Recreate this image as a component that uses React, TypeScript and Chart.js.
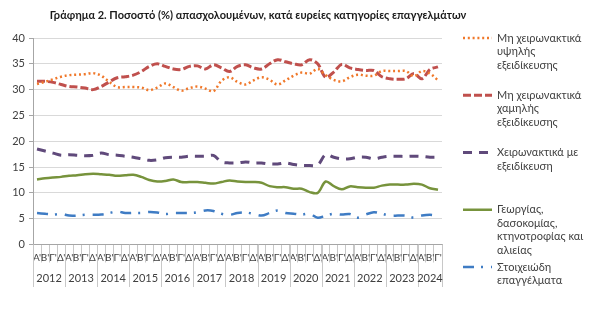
import React, { useEffect, useRef } from "react";
import { Chart, registerables } from "chart.js";

Chart.register(...registerables);

const titleText =
  "Γράφημα 2. Ποσοστό (%) απασχολουμένων, κατά ευρείες κατηγορίες επαγγελμάτων";

const years = ["2012", "2013", "2014", "2015", "2016", "2017", "2018", "2019", "2020", "2021", "2022", "2023", "2024"];
const quarterNames = ["Α'", "Β'", "Γ'", "Δ'"];
const quartersInLastYear = 3;

const seriesNames = [
  ["Μη χειρωνακτικά", "υψηλής", "εξειδίκευσης"],
  ["Μη χειρωνακτικά", "χαμηλής", "εξειδίκευσης"],
  ["Χειρωνακτικά με", "εξειδίκευση"],
  ["Γεωργίας,", "δασοκομίας,", "κτηνοτροφίας και", "αλιείας"],
  ["Στοιχειώδη", "επαγγέλματα"],
];

const highSkillNonManual = [
  31.1, 31.5, 32.0, 32.5, 32.8, 32.9, 33.0, 33.2, 32.7, 31.5, 30.5, 30.5, 30.5,
  30.4, 29.9, 30.4, 31.2, 30.5, 29.8, 30.3, 30.6, 30.2, 29.7, 31.7, 32.4, 31.5,
  31.0, 31.8, 32.4, 31.9, 31.0, 31.8, 32.7, 33.3, 33.1, 34.0, 32.8, 31.9, 31.6,
  32.4, 32.9, 32.7, 32.7, 33.6, 33.6, 33.6, 33.6, 32.6, 33.6, 33.1, 31.8,
];
const lowSkillNonManual = [
  31.6, 31.6, 31.4, 31.0, 30.6, 30.5, 30.3, 30.0, 30.6, 31.5, 32.3, 32.5, 32.8,
  33.5, 34.5, 35.0, 34.5, 34.0, 33.9, 34.5, 34.6, 34.0, 34.8, 34.2, 33.5, 34.5,
  34.8, 34.2, 34.0, 35.0, 35.8, 35.4, 35.0, 34.8, 35.8, 35.0, 32.4, 33.4, 34.9,
  34.2, 33.9, 33.7, 33.7, 32.5, 32.1, 32.0, 32.1, 33.1, 32.1, 33.9, 34.4,
];
const skilledManual = [
  18.5, 18.1, 17.7, 17.3, 17.4, 17.3, 17.2, 17.3, 17.7, 17.4, 17.3, 17.1, 16.9,
  16.6, 16.3, 16.4, 16.8, 16.9, 16.9, 17.1, 17.1, 17.1, 17.25, 16.0, 15.8, 15.8,
  16.0, 15.8, 15.8, 15.6, 15.6, 15.8, 15.5, 15.3, 15.3, 15.4, 17.4, 16.9, 16.6,
  16.6, 16.9, 16.9, 16.6, 16.9, 17.1, 17.1, 17.05, 17.1, 17.05, 16.9, 16.9,
];
const agriculture = [
  12.6, 12.85, 13.0, 13.1, 13.3, 13.4, 13.6, 13.7, 13.6, 13.5, 13.3, 13.4, 13.5,
  13.1, 12.5, 12.2, 12.3, 12.6, 12.1, 12.1, 12.1, 11.95, 11.8, 12.1, 12.4, 12.2,
  12.1, 12.1, 11.95, 11.3, 11.1, 11.1, 10.8, 10.8, 10.15, 10.0, 12.2, 11.3, 10.7,
  11.25, 11.1, 11.0, 11.0, 11.4, 11.6, 11.6, 11.6, 11.75, 11.6, 10.9, 10.6,
];
const elementary = [
  6.1, 5.95, 5.8, 5.95, 5.6, 5.6, 5.75, 5.75, 5.8, 6.1, 6.4, 6.1, 6.1, 6.1, 6.3,
  6.2, 5.9, 6.1, 6.1, 6.1, 6.25, 6.6, 6.5, 5.95, 5.75, 6.1, 6.2, 5.95, 5.6, 6.1,
  6.6, 6.1, 5.95, 5.8, 5.95, 5.2, 5.6, 5.95, 5.8, 5.9, 5.2, 5.8, 6.25, 5.95, 5.6,
  5.6, 5.6, 5.2, 5.6, 5.75, 5.6,
];

const yTicks = [0, 5, 10, 15, 20, 25, 30, 35, 40];

const FONT = "Lato, 'Open Sans', 'Noto Sans', sans-serif";
const TEXT = "#404040";

// categories: one entry per quarter, with the year it belongs to
const categories: { year: string; q: string }[] = [];
years.forEach((y, yi) => {
  const n = yi === years.length - 1 ? quartersInLastYear : quarterNames.length;
  for (let k = 0; k < n; k++) categories.push({ year: y, q: quarterNames[k] });
});
const quarterLabels = categories.map((c) => c.q);

const decorPlugin = {
  id: "decor",
  afterDraw(chart: any) {
    const ctx = chart.ctx as CanvasRenderingContext2D;
    const xs = chart.scales.x;
    const area = chart.chartArea;
    ctx.save();
    // title
    ctx.fillStyle = "#1a1a1a";
    ctx.font = `bold 11px ${FONT}`;
    ctx.textAlign = "center";
    ctx.textBaseline = "middle";
    ctx.fillText(titleText, 258, 15);

    // year row
    const half = (xs.getPixelForValue(1) - xs.getPixelForValue(0)) / 2;
    ctx.strokeStyle = "#C8C8C8";
    ctx.lineWidth = 1;
    ctx.font = `11px ${FONT}`;
    ctx.fillStyle = TEXT;
    let idx = 0;
    const bottom = 287;
    years.forEach((y) => {
      const start = idx;
      while (idx < categories.length && categories[idx].year === y) idx++;
      const end = idx - 1;
      const left = xs.getPixelForValue(start) - half;
      const right = xs.getPixelForValue(end) + half;
      ctx.beginPath();
      ctx.moveTo(Math.round(left) + 0.5, area.bottom);
      ctx.lineTo(Math.round(left) + 0.5, bottom);
      ctx.stroke();
      if (idx === categories.length) {
        ctx.beginPath();
        ctx.moveTo(Math.round(right) + 0.5, area.bottom);
        ctx.lineTo(Math.round(right) + 0.5, bottom);
        ctx.stroke();
      }
      ctx.fillText(y, (left + right) / 2, 278);
    });

    // legend
    const lx0 = 463;
    const lx1 = 492;
    const tx = 497;
    const step = 57.25;
    const lineH = 13.5;
    chart.data.datasets.forEach((ds: any, i: number) => {
      const y0 = 38 + i * step;
      ctx.save();
      ctx.strokeStyle = ds.borderColor;
      ctx.lineWidth = ds.borderWidth;
      ctx.setLineDash(ds.borderDash || []);
      ctx.lineCap = ds.borderCapStyle || "butt";
      ctx.beginPath();
      ctx.moveTo(lx0, y0);
      ctx.lineTo(lx1, y0);
      ctx.stroke();
      ctx.restore();
      ctx.fillStyle = TEXT;
      ctx.font = `11px ${FONT}`;
      ctx.textAlign = "left";
      ctx.textBaseline = "middle";
      seriesNames[i].forEach((line, li) => {
        ctx.fillText(line, tx, y0 + li * lineH);
      });
    });
    ctx.restore();
  },
};

export default function App() {
  const ref = useRef<HTMLCanvasElement>(null);
  useEffect(() => {
    const canvas = ref.current!;
    const chart = new Chart(canvas, {
      type: "line",
      data: {
        labels: quarterLabels,
        datasets: [
          {
            label: seriesNames[0].join(" "),
            data: highSkillNonManual,
            borderColor: "#F0782A",
            borderWidth: 2.5,
            borderDash: [2, 2.8],
          },
          {
            label: seriesNames[1].join(" "),
            data: lowSkillNonManual,
            borderColor: "#C0504D",
            borderWidth: 3,
            borderDash: [8, 3],
          },
          {
            label: seriesNames[2].join(" "),
            data: skilledManual,
            borderColor: "#604A7B",
            borderWidth: 3,
            borderDash: [9, 7],
          },
          {
            label: seriesNames[3].join(" "),
            data: agriculture,
            borderColor: "#77933C",
            borderWidth: 2.5,
          },
          {
            label: seriesNames[4].join(" "),
            data: elementary,
            borderColor: "#3F7CC4",
            borderWidth: 2.5,
            borderDash: [11, 7, 2, 8],
          },
        ] as any,
      },
      options: {
        responsive: false,
        devicePixelRatio: 1,
        animation: false,
        layout: { padding: { top: 38, right: 158, left: 0, bottom: 0 } },
        elements: {
          point: { radius: 0, hoverRadius: 0 },
          line: { tension: 0.35, fill: false },
        },
        plugins: {
          legend: { display: false },
          title: { display: false },
          tooltip: { enabled: false },
        },
        scales: {
          x: {
            type: "category",
            offset: true,
            grid: {
              drawOnChartArea: false,
              offset: true,
              tickLength: 18,
              color: "#C8C8C8",
            },
            border: { color: "#A6A6A6" },
            ticks: {
              autoSkip: false,
              maxRotation: 0,
              minRotation: 0,
              padding: -11,
              color: TEXT,
              font: { size: 10, family: FONT },
            },
            afterFit: (s: any) => {
              s.height = 77.5;
            },
          },
          y: {
            min: 0,
            max: 40,
            afterBuildTicks: (s: any) => {
              s.ticks = yTicks.map((v) => ({ value: v }));
            },
            grid: { color: "#D9D9D9", tickLength: 4, tickColor: "#A6A6A6" },
            border: { color: "#A6A6A6" },
            ticks: {
              padding: 4,
              color: TEXT,
              font: { size: 11, family: FONT },
            },
            afterFit: (s: any) => {
              s.width = 33;
            },
          },
        },
      } as any,
      plugins: [decorPlugin],
    });
    return () => chart.destroy();
  }, []);
  return (
    <div
      style={{
        position: "fixed",
        left: 0,
        top: 0,
        width: 600,
        height: 322,
        background: "#fff",
      }}
    >
      <canvas
        ref={ref}
        width={600}
        height={322}
        style={{ display: "block", width: 600, height: 322 }}
      />
    </div>
  );
}
